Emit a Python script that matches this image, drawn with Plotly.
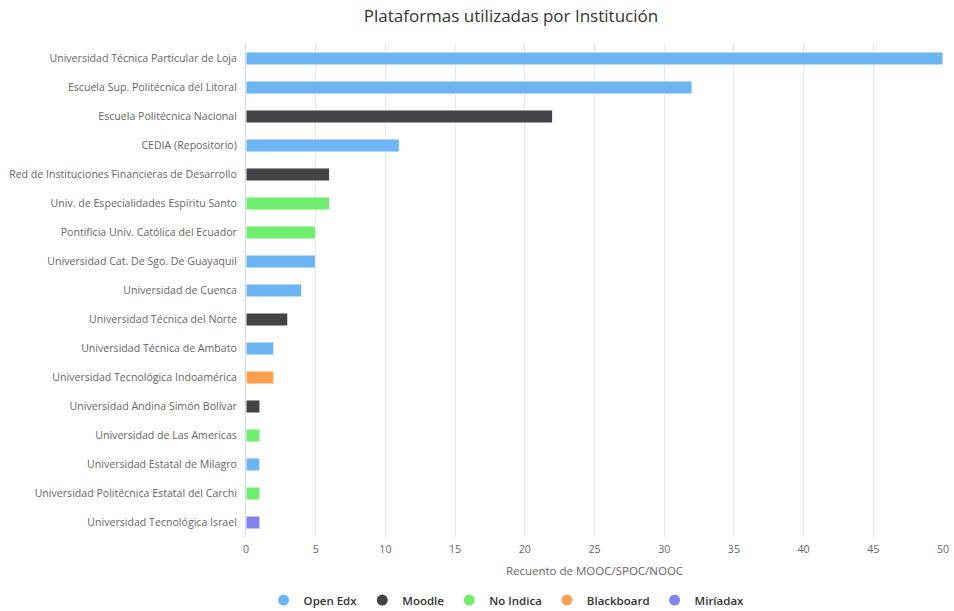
import plotly.graph_objects as go

institutions = [
    "Universidad Técnica Particular de Loja",
    "Escuela Sup. Politécnica del Litoral",
    "Escuela Politécnica Nacional",
    "CEDIA (Repositorio)",
    "Red de Instituciones Financieras de Desarrollo",
    "Univ. de Especialidades Espíritu Santo",
    "Pontificia Univ. Católica del Ecuador",
    "Universidad Cat. De Sgo. De Guayaquil",
    "Universidad de Cuenca",
    "Universidad Técnica del Norte",
    "Universidad Técnica de Ambato",
    "Universidad Tecnológica Indoamérica",
    "Universidad Andina Simón Bolívar",
    "Universidad de Las Americas",
    "Universidad Estatal de Milagro",
    "Universidad Politécnica Estatal del Carchi",
    "Universidad Tecnológica Israel",
]
counts = [50, 32, 22, 11, 6, 6, 5, 5, 4, 3, 2, 2, 1, 1, 1, 1, 1]
platform_of = [
    "Open Edx", "Open Edx", "Moodle", "Open Edx", "Moodle", "No Indica",
    "No Indica", "Open Edx", "Open Edx", "Moodle", "Open Edx", "Blackboard",
    "Moodle", "No Indica", "Open Edx", "No Indica", "Miríadax",
]
platforms = ["Open Edx", "Moodle", "No Indica", "Blackboard", "Miríadax"]
colors = {
    "Open Edx": "#6cb5f2",
    "Moodle": "#434348",
    "No Indica": "#6eee6c",
    "Blackboard": "#fd9f4e",
    "Miríadax": "#8085ee",
}

font_family = "Open Sans, Lato, sans-serif"
fig = go.Figure()
for p in platforms:
    ys = [inst for inst, pl in zip(institutions, platform_of) if pl == p]
    xs = [c for c, pl in zip(counts, platform_of) if pl == p]
    fig.add_trace(go.Bar(
        x=xs, y=ys, orientation="h", name=p,
        marker=dict(color=colors[p], line=dict(color="white", width=1)),
        showlegend=False,
    ))
for p in platforms:
    fig.add_trace(go.Scatter(
        x=[None], y=[None], mode="markers", name=p,
        marker=dict(color=colors[p], size=11, symbol="circle"),
    ))

fig.update_layout(
    width=954, height=611,
    paper_bgcolor="white", plot_bgcolor="white",
    margin=dict(l=246, r=11, t=44, b=74, autoexpand=False),
    barmode="overlay",
    bargap=0.55,
    font=dict(family=font_family, color="#666666", size=10.6),
    title=dict(
        text="Plataformas utilizadas por Institución",
        x=0.5356, xanchor="center", xref="container",
        y=0.9738, yanchor="middle", yref="container",
        font=dict(size=17, color="#333333", family=font_family),
    ),
    xaxis=dict(
        range=[0, 50], dtick=5, tick0=0, automargin=False,
        showgrid=True, gridcolor="#e6e6e6", gridwidth=1,
        zeroline=False, showline=False,
        ticks="", ticklabelstandoff=4,
        tickfont=dict(size=10.6, color="#666666"),
        title=dict(text="Recuento de MOOC/SPOC/NOOC", standoff=12,
                   font=dict(size=11.5, color="#666666")),
    ),
    yaxis=dict(
        categoryorder="array", categoryarray=institutions,
        autorange="reversed", automargin=False,
        showline=True, linecolor="#ccd6eb", linewidth=1,
        showgrid=False, ticks="", ticklen=0, ticklabelstandoff=6,
        tickfont=dict(size=10.6, color="#666666"),
    ),
    legend=dict(
        orientation="h", x=0.531, xanchor="center", xref="container",
        y=-0.128, yanchor="middle",
        font=dict(size=11.5, color="#333333", family=font_family, weight=600),
        itemwidth=30,
    ),
)

fig.write_html(
    "out.html",
    config={"displayModeBar": False},
    post_script="document.body.style.margin='0';document.body.style.overflow='hidden';",
)
